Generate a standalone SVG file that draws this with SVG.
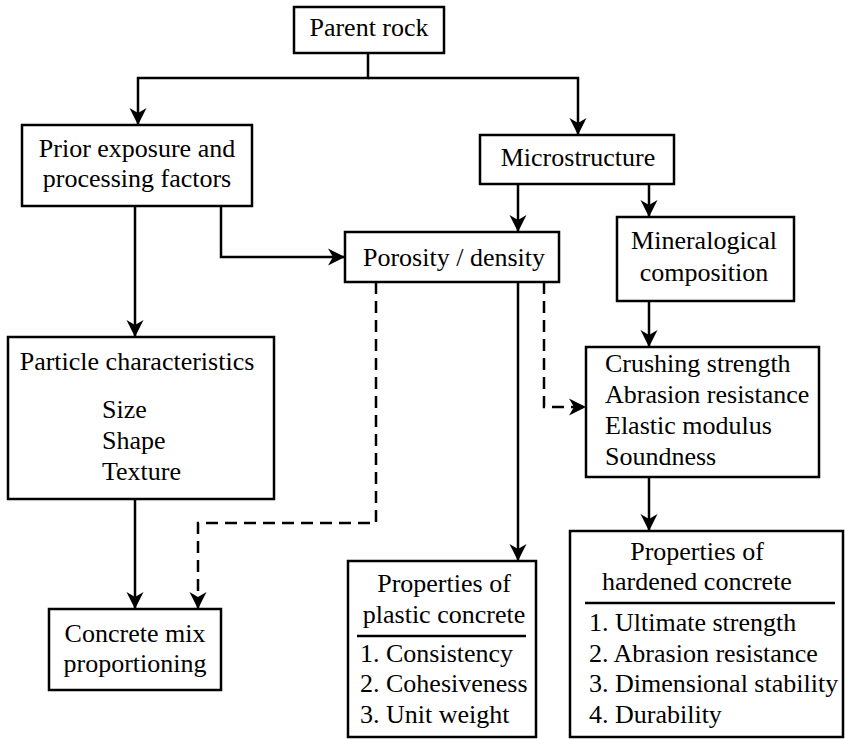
<svg xmlns="http://www.w3.org/2000/svg" width="845" height="739" viewBox="0 0 845 739">
<style>
rect.box{fill:#fff;stroke:#000;stroke-width:2.5}
text{font-family:"Liberation Serif","Times New Roman",serif;font-size:26px;fill:#000}
.c{text-anchor:middle}
.conn path{fill:none;stroke:#000;stroke-width:2.5}
.conn path.d{stroke-dasharray:12 7}
line.sep{stroke:#000;stroke-width:2.5}
</style>
<defs>
<marker id="ah" markerUnits="userSpaceOnUse" markerWidth="20" markerHeight="20" viewBox="-18 -10 20 20" refX="0" refY="0" orient="auto">
<path d="M0,0 L-17,-8.5 L-12,0 L-17,8.5 Z" fill="#000"/>
</marker>
</defs>
<rect width="845" height="739" fill="#fff"/>
<g class="conn" id="connectors">
<path d="M368,53 V78 H138 V125" marker-end="url(#ah)"/>
<path d="M368,78 H578 V135" marker-end="url(#ah)"/>
<path d="M518,184 V232" marker-end="url(#ah)"/>
<path d="M649,184 V217" marker-end="url(#ah)"/>
<path d="M135,206 V337" marker-end="url(#ah)"/>
<path d="M221,206 V257 H345" marker-end="url(#ah)"/>
<path d="M518,282 V561" marker-end="url(#ah)"/>
<path class="d" d="M544,282 V407 H586" marker-end="url(#ah)"/>
<path class="d" d="M376,282 V523 H198 V609" marker-end="url(#ah)"/>
<path d="M135,499 V609" marker-end="url(#ah)"/>
<path d="M649,301 V347" marker-end="url(#ah)"/>
<path d="M649,477 V531" marker-end="url(#ah)"/>
</g>
<g id="parent-rock">
<rect class="box" x="294" y="7" width="150" height="46"/>
<text class="c" x="369" y="36">Parent rock</text>
</g>
<g id="prior-exposure">
<rect class="box" x="22" y="125" width="230" height="81"/>
<text class="c" x="137" y="157">Prior exposure and</text>
<text class="c" x="137" y="187">processing factors</text>
</g>
<g id="microstructure">
<rect class="box" x="480" y="135" width="194" height="49"/>
<text class="c" x="578" y="166">Microstructure</text>
</g>
<g id="porosity">
<rect class="box" x="345" y="232" width="214" height="50"/>
<text class="c" x="454" y="266">Porosity / density</text>
</g>
<g id="mineralogical">
<rect class="box" x="617" y="217" width="177" height="84"/>
<text class="c" x="704" y="249">Mineralogical</text>
<text class="c" x="704" y="281">composition</text>
</g>
<g id="particle">
<rect class="box" x="8" y="337" width="266" height="162"/>
<text class="c" x="137" y="370">Particle characteristics</text>
<text x="102" y="418">Size</text>
<text x="102" y="449">Shape</text>
<text x="102" y="480">Texture</text>
</g>
<g id="crushing">
<rect class="box" x="586" y="347" width="233" height="130"/>
<text x="605" y="372">Crushing strength</text>
<text x="605" y="403">Abrasion resistance</text>
<text x="605" y="434">Elastic modulus</text>
<text x="605" y="465">Soundness</text>
</g>
<g id="concrete-mix">
<rect class="box" x="49" y="609" width="172" height="81"/>
<text class="c" x="135" y="642">Concrete mix</text>
<text class="c" x="135" y="672">proportioning</text>
</g>
<g id="plastic">
<rect class="box" x="348" y="561" width="188" height="176"/>
<text class="c" x="444" y="592">Properties of</text>
<text class="c" x="444" y="623">plastic concrete</text>
<line class="sep" x1="357" y1="636" x2="526" y2="636"/>
<text x="360" y="662">1. Consistency</text>
<text x="360" y="692">2. Cohesiveness</text>
<text x="360" y="723">3. Unit weight</text>
</g>
<g id="hardened">
<rect class="box" x="570" y="531" width="273" height="206"/>
<text class="c" x="697" y="560">Properties of</text>
<text class="c" x="697" y="590">hardened concrete</text>
<line class="sep" x1="585" y1="603" x2="835" y2="603"/>
<text x="589" y="631">1. Ultimate strength</text>
<text x="589" y="662">2. Abrasion resistance</text>
<text x="589" y="692">3. Dimensional stability</text>
<text x="589" y="723">4. Durability</text>
</g>
</svg>
